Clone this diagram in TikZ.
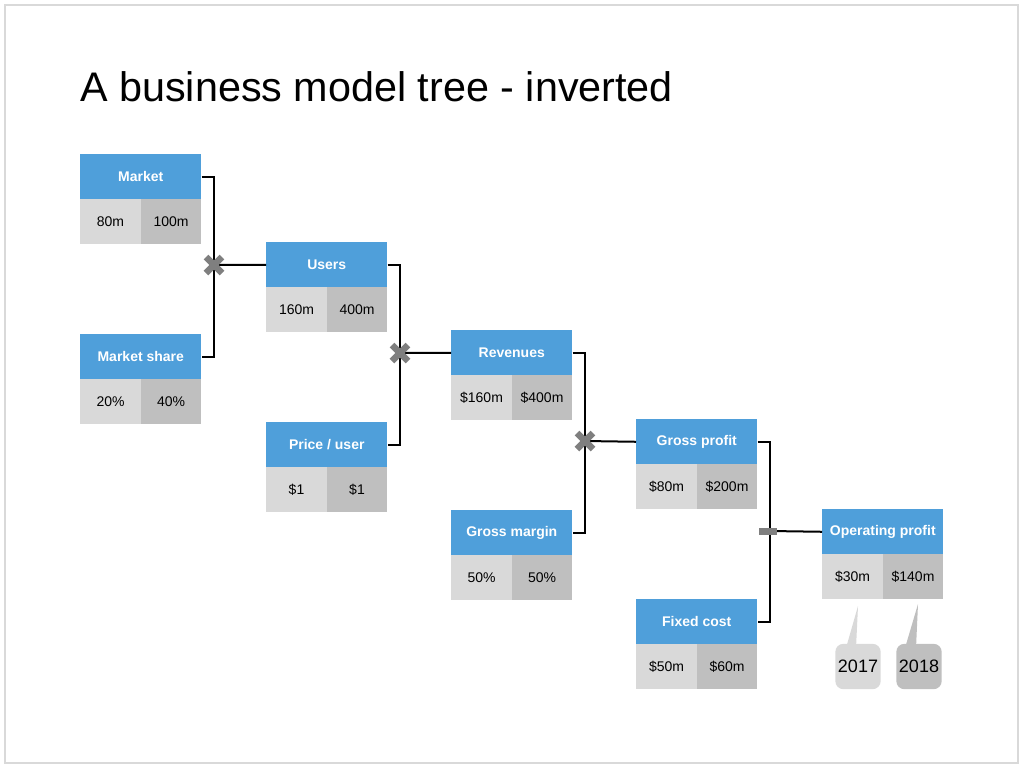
\documentclass[tikz,border=0pt]{standalone}
\usepackage{fontspec}
\setmainfont{Liberation Sans}
\definecolor{hblue}{HTML}{4F9FDA}
\definecolor{lgray}{HTML}{D9D9D9}
\definecolor{dgray}{HTML}{BFBFBF}
\definecolor{markgray}{HTML}{7F7F7F}
\begin{document}
\begin{tikzpicture}[x=0.75pt,y=-0.75pt,
  head/.style={fill=hblue,text=white,font=\fontsize{10.5}{12}\selectfont\bfseries,minimum width=90.75pt,minimum height=33.75pt,anchor=north west,inner sep=0pt},
  cella/.style={fill=lgray,font=\fontsize{10.5}{12}\selectfont,minimum width=45.375pt,minimum height=33.75pt,anchor=north west,inner sep=0pt},
  cellb/.style={cella,fill=dgray},
  wire/.style={line width=1.5pt,black},
  xmark/.style={line width=5pt,markgray},
  callout/.style={rounded corners=6pt,minimum width=34pt,minimum height=34pt,font=\fontsize{13.5}{15}\selectfont,inner sep=0pt}]
\useasboundingbox (0,0) rectangle (1024,768);
\draw[line width=1pt,lgray] (5,5) rectangle (1018,763);
\node[anchor=base west,inner sep=0pt,font=\fontsize{31}{36}\selectfont] (title) at (80,101) {A business model tree - inverted};
\newcommand{\bmbox}[6]{%
  \node[head] (#1) at (#2,#3) {#4};
  \node[cella] (#1a) at (#2,#3+45) {#5};
  \node[cellb] (#1b) at (#2+60.5,#3+45) {#6};}
\bmbox{mkt}{80}{154}{Market}{80m}{100m}
\bmbox{share}{80}{334}{Market share}{20\%}{40\%}
\bmbox{users}{266}{242}{Users}{160m}{400m}
\bmbox{price}{266}{422}{Price / user}{\$1}{\$1}
\bmbox{rev}{451}{330}{Revenues}{\$160m}{\$400m}
\bmbox{gm}{451}{510}{Gross margin}{50\%}{50\%}
\bmbox{gp}{636}{419}{Gross profit}{\$80m}{\$200m}
\bmbox{fc}{636}{599}{Fixed cost}{\$50m}{\$60m}
\bmbox{op}{822}{509}{Operating profit}{\$30m}{\$140m}
% connectors
\coordinate (j1) at (214,265);
\coordinate (j2) at (400,353);
\coordinate (j3) at (585,441);
\coordinate (j4) at (770,531);
\draw[wire] (mkt.east) -| (j1) |- (share.east);
\draw[wire] (j1) -- (users.west);
\draw[wire] (users.east) -| (j2) |- (price.east);
\draw[wire] (j2) -- (rev.west);
\draw[wire] (rev.east) -| (j3) |- (gm.east);
\draw[wire] (j3) -- (gp.west);
\draw[wire] (gp.east) -| (j4) |- (fc.east);
\draw[wire] (j4) -- (op.west);
\foreach \j in {j1,j2,j3}{
  \draw[xmark] ([shift={(-8,-8)}]\j) -- ([shift={(8,8)}]\j);
  \draw[xmark] ([shift={(-8,8)}]\j) -- ([shift={(8,-8)}]\j);}
\fill[markgray] ([shift={(-11,-3.5)}]j4) rectangle ([shift={(7,3.5)}]j4);
% callouts
\node[callout,fill=lgray] (c17) at (858,666.5) {2017};
\node[callout,fill=dgray] (c18) at (919,666.5) {2018};
\fill[lgray] (846,648) -- (858,606) -- (856,648) -- cycle;
\fill[dgray] (905,648) -- (918,604) -- (916,648) -- cycle;
\end{tikzpicture}
\end{document}
